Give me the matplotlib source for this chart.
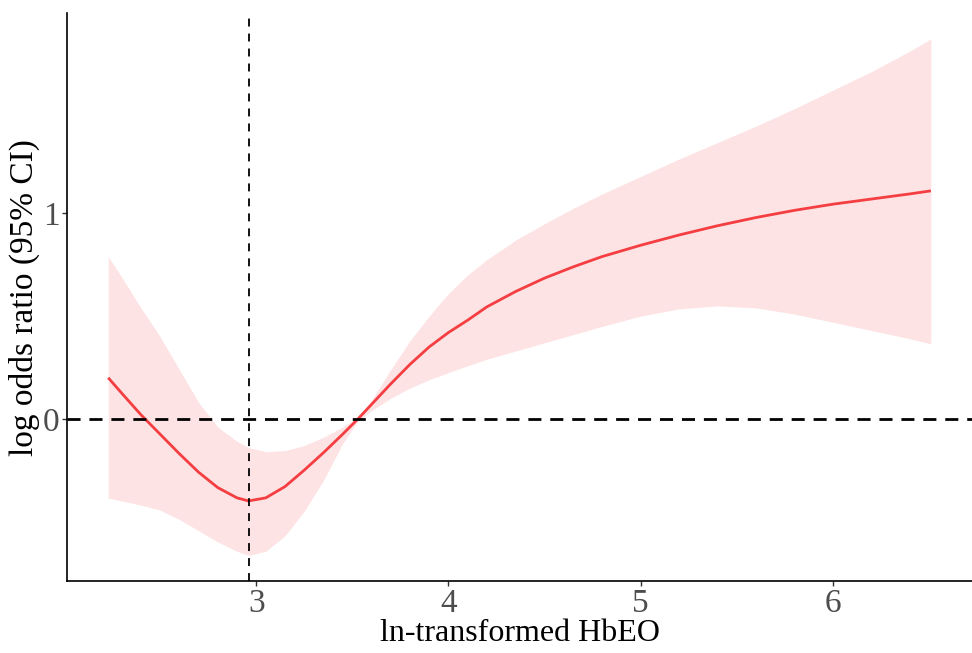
import numpy as np
import matplotlib
matplotlib.use("Agg")
import matplotlib.pyplot as plt

# ln-transformed HbEO vs log odds ratio (restricted cubic spline, 95% CI)
hbeo = [2.23, 2.3, 2.4, 2.5, 2.6, 2.7, 2.8, 2.9, 2.96, 3.05, 3.15, 3.25,
        3.35, 3.45, 3.53, 3.6, 3.7, 3.8, 3.9, 4.0, 4.1, 4.2, 4.35, 4.5,
        4.65, 4.8, 5.0, 5.2, 5.4, 5.6, 5.8, 6.0, 6.2, 6.4, 6.51]
log_or = [0.20, 0.125, 0.02, -0.075, -0.17, -0.26, -0.335, -0.385, -0.40,
          -0.385, -0.33, -0.25, -0.165, -0.075, 0.0, 0.07, 0.17, 0.265,
          0.35, 0.42, 0.48, 0.545, 0.62, 0.685, 0.74, 0.79, 0.845, 0.895,
          0.94, 0.98, 1.015, 1.045, 1.07, 1.095, 1.11]
ci_upper = [0.79, 0.69, 0.54, 0.40, 0.24, 0.08, -0.04, -0.11, -0.14,
            -0.16, -0.155, -0.13, -0.09, -0.04, 0.005, 0.09, 0.24, 0.38,
            0.50, 0.61, 0.70, 0.775, 0.87, 0.95, 1.025, 1.095, 1.18, 1.265,
            1.345, 1.425, 1.51, 1.60, 1.69, 1.79, 1.85]
ci_lower = [-0.386, -0.40, -0.42, -0.445, -0.49, -0.545, -0.60, -0.645,
            -0.665, -0.645, -0.57, -0.45, -0.30, -0.12, -0.01, 0.04, 0.10,
            0.15, 0.19, 0.225, 0.258, 0.29, 0.33, 0.37, 0.41, 0.45, 0.50,
            0.535, 0.55, 0.54, 0.51, 0.47, 0.43, 0.39, 0.365]
cutpoint = 2.96
x_ticks = [3, 4, 5, 6]
y_ticks = [0, 1]

plt.rcParams['font.family'] = ['Liberation Serif', 'DejaVu Serif']

fig = plt.figure(figsize=(9.72, 6.53), dpi=100)
ax = fig.add_axes([0.069, 0.110, 0.931, 0.870])

ax.fill_between(hbeo, ci_lower, ci_upper, color='#fde3e4', linewidth=0)
ax.plot(hbeo, log_or, color='#f43e42', linewidth=2.0, solid_capstyle='butt')

ax.axhline(0, color='black', linewidth=2.0, dashes=(4.7, 3.2))
ax.axvline(cutpoint, color='black', linewidth=1.3, dashes=(4.4, 3.9))

# ggplot-like 5% expansion around the data
xr = max(hbeo) - min(hbeo)
ax.set_xlim(min(hbeo) - 0.05 * xr, max(hbeo) + 0.05 * xr)
yr = max(ci_upper) - min(ci_lower)
ax.set_ylim(min(ci_lower) - 0.05 * yr, max(ci_upper) + 0.05 * yr)

ax.set_xticks(x_ticks)
ax.set_yticks(y_ticks)
ax.tick_params(axis='both', length=3.5, width=1.0, color='#333333',
               labelcolor='#4d4d4d', labelsize=24, pad=2)

for side in ['top', 'right']:
    ax.spines[side].set_visible(False)
for side in ['left', 'bottom']:
    ax.spines[side].set_linewidth(1.2)
    ax.spines[side].set_color('black')

ax.set_xlabel('ln-transformed HbEO', fontsize=23, labelpad=0)
ax.set_ylabel('log odds ratio (95% CI)', fontsize=24, labelpad=2)

fig.savefig('out.png', dpi=100)
